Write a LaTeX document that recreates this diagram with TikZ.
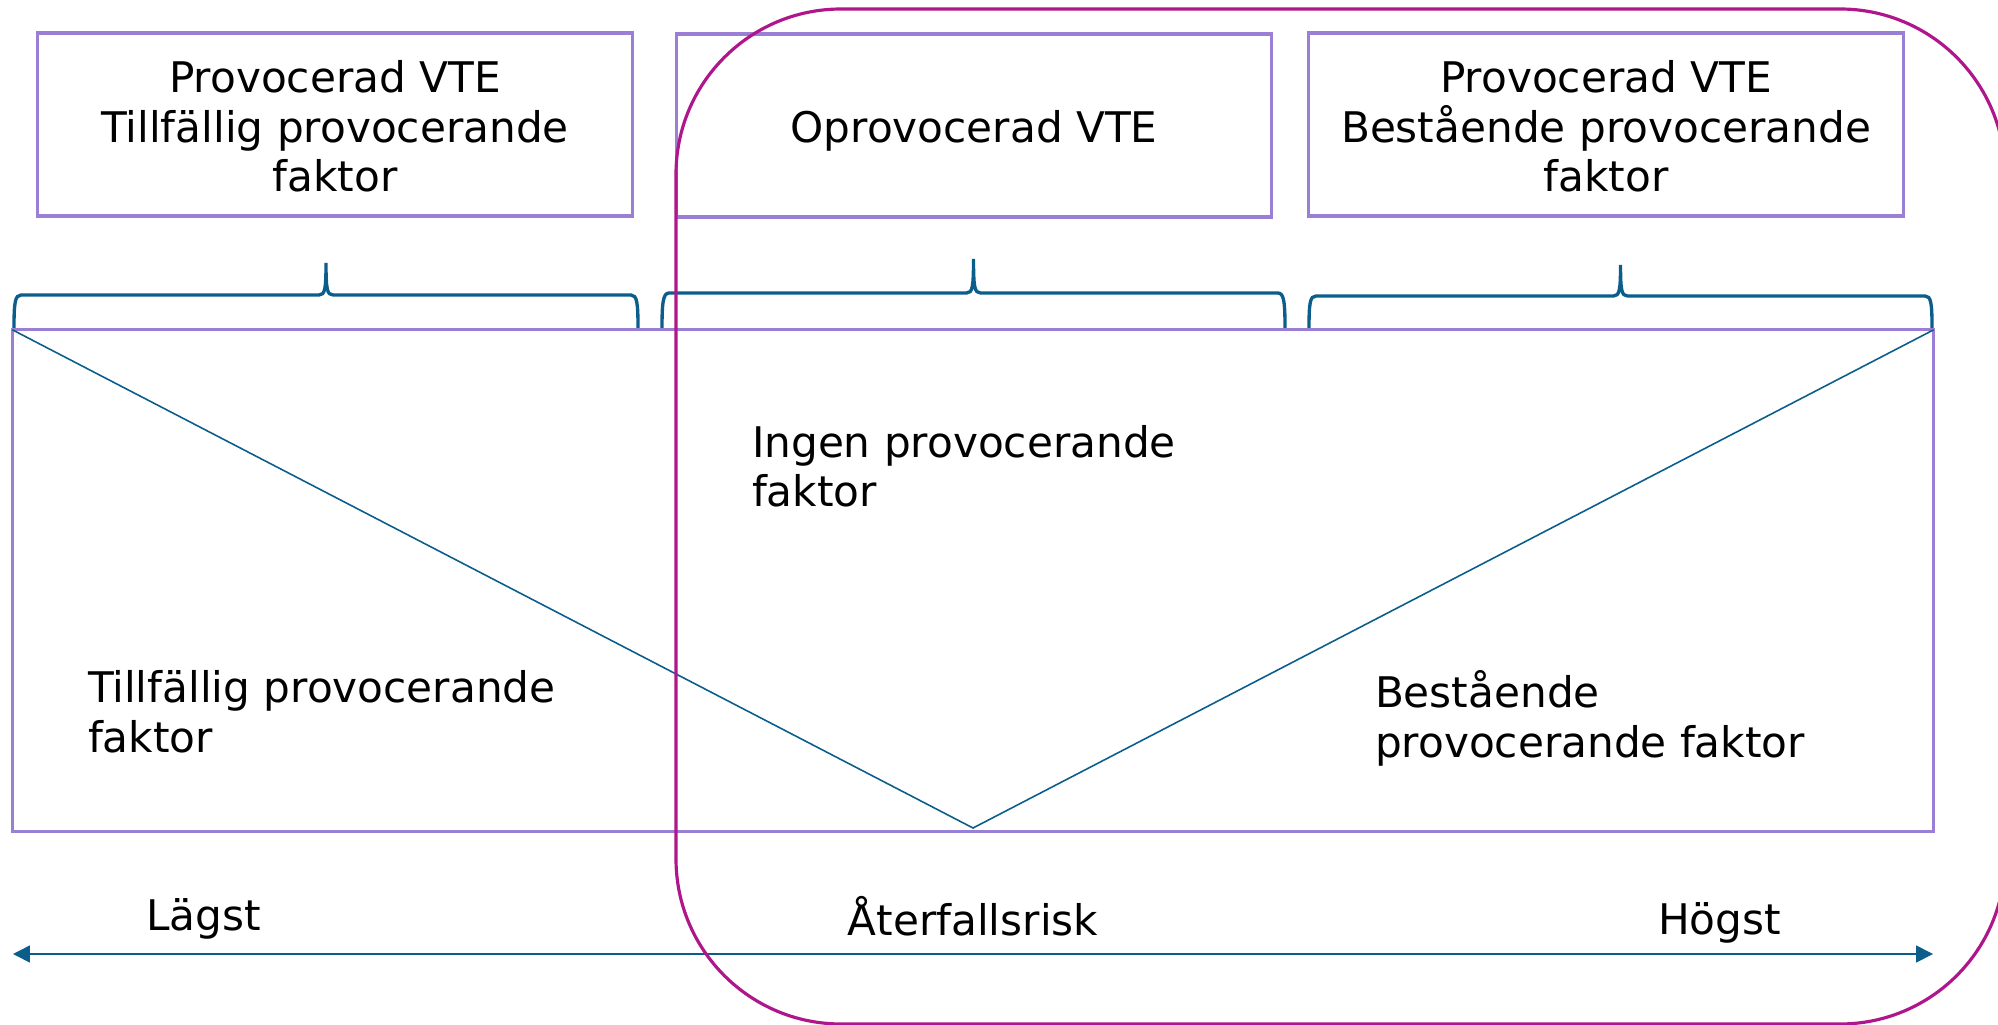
\documentclass[tikz,border=0pt]{standalone}
\usepackage{fontspec}
\setmainfont{DejaVu Sans}
\usetikzlibrary{arrows.meta}
\definecolor{boxpurple}{HTML}{9B7FD4}
\definecolor{ringmag}{HTML}{B0168C}
\definecolor{lineblue}{HTML}{0B5E8C}
\newcommand{\mybrace}[4]{%
  \draw[bracestyle] (#1,328) .. controls (#1,303) and (#1+1,#3) .. (#1+7,#3)
    -- ({(#1+#2)/2-7},#3) .. controls ({(#1+#2)/2-1},#3) and ({(#1+#2)/2},#3-6) .. ({(#1+#2)/2},#4)
    .. controls ({(#1+#2)/2},#3-6) and ({(#1+#2)/2+1},#3) .. ({(#1+#2)/2+7},#3)
    -- (#2-7,#3) .. controls (#2-1,#3) and (#2,303) .. (#2,328);}
\begin{document}
\begin{tikzpicture}[x=0.01cm,y=-0.01cm,
  every node/.style={font=\fontsize{12}{14.2}\selectfont, inner sep=0pt, outer sep=0pt},
  frame/.style={draw=boxpurple, line width=0.9pt},
  bracestyle/.style={draw=lineblue, line width=0.95pt},
  thinline/.style={draw=lineblue, line width=0.45pt},
  lbl/.style={align=left, anchor=base west},
  ctr/.style={align=center, anchor=base},
  ring/.style={draw=ringmag, line width=0.9pt, rounded corners=1.65cm}]
\useasboundingbox (0,0) rectangle (1998,1025);
% top boxes
\node[frame, minimum width=5.94cm, minimum height=1.83cm] (tlbox) at (335,124.5) {};
\node[frame, minimum width=5.94cm, minimum height=1.83cm] (tmbox) at (974,125.5) {};
\node[frame, minimum width=5.94cm, minimum height=1.83cm] (trbox) at (1606,124.5) {};
\node[ctr] (tltext) at (335,192) {Provocerad VTE\\Tillfällig provocerande\\faktor};
\node[ctr] (tmtext) at (974,143) {Oprovocerad VTE};
\node[ctr] (trtext) at (1606,192) {Provocerad VTE\\Bestående provocerande\\faktor};
% braces
\mybrace{14}{638}{295}{263}
\mybrace{662}{1285}{293}{259}
\mybrace{1309}{1932}{296}{265}
% big box
\node[frame, minimum width=19.2cm, minimum height=5.01cm] (bigbox) at (973,580.5) {};
\coordinate (vtip) at (973,828);
\draw[thinline] (bigbox.north west) -- (vtip) -- (bigbox.north east);
\node[lbl] (ingen) at (752,507) {Ingen provocerande\\faktor};
\node[lbl] (tillf) at (88,752) {Tillfällig provocerande\\faktor};
\node[lbl] (best) at (1375,757) {Bestående\\provocerande faktor};
% axis
\coordinate (lo) at (13,954);
\coordinate (hi) at (1933,954);
\draw[thinline, {Triangle[length=4.8pt,width=4.8pt]}-{Triangle[length=4.8pt,width=4.8pt]}] (lo) -- (hi);
\node[lbl] (lagst) at (146,930) {Lägst};
\node[lbl] (hogst) at (1658,934) {Högst};
\node[ctr] (risk) at (973,935) {Återfallsrisk};
% magenta rounded frame
\begin{scope}
\clip (0,0) rectangle (1998,1025);
\draw[ring] (676,9) rectangle (2005,1024);
\end{scope}
\end{tikzpicture}
\end{document}
